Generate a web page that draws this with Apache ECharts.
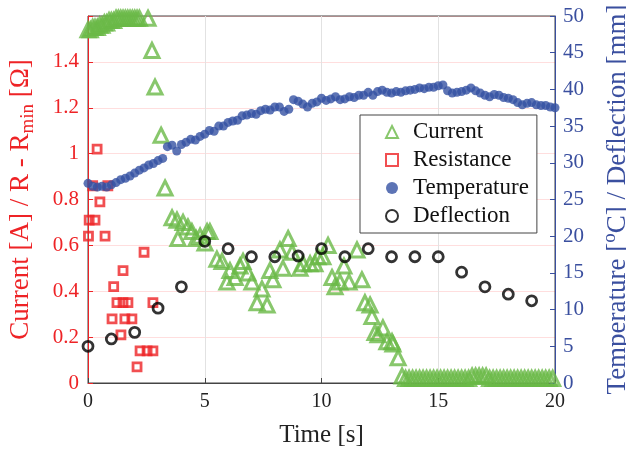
<!DOCTYPE html>
<html>
<head>
<meta charset="utf-8">
<script src="https://cdn.jsdelivr.net/npm/echarts@6/dist/echarts.min.js"></script>
<style>
  html, body { margin: 0; padding: 0; background: #fff; }
  #chart { width: 626px; height: 454px; }
</style>
</head>
<body>
<div id="chart"></div>
<script>
// current [A] vs time [s]
const currentTime = [
  0.00, 0.10, 0.20, 0.30, 0.40, 0.50, 0.60, 0.70, 0.80, 0.90, 1.00, 1.10, 1.20, 1.30, 1.40, 1.50,
  1.60, 1.70, 1.80, 1.90, 2.00, 2.10, 2.20, 2.57, 2.74, 2.87, 3.13, 3.30, 3.60, 3.81, 3.85, 4.07,
  4.28, 4.45, 4.63, 4.80, 5.01, 5.10, 5.22, 5.52, 5.74, 5.95, 6.08, 6.30, 6.51, 6.64, 6.85, 7.02,
  7.24, 7.45, 7.67, 7.79, 7.92, 8.22, 8.35, 8.57, 8.74, 9.08, 9.21, 9.51, 9.72, 9.85, 10.06, 10.28,
  10.45, 10.58, 10.79, 10.96, 11.18, 11.52, 11.73, 11.86, 12.08, 12.16, 12.29, 12.42, 12.63, 12.80, 13.02, 13.06,
  13.28, 13.45, 13.60, 13.75, 13.90, 14.05, 14.20, 14.35, 14.50, 14.65, 14.80, 14.95, 15.10, 15.25, 15.40, 15.55,
  15.70, 15.85, 16.00, 16.15, 16.30, 16.45, 16.60, 16.75, 16.90, 17.05, 17.20, 17.35, 17.50, 17.65, 17.80, 17.95,
  18.10, 18.25, 18.40, 18.55, 18.70, 18.85, 19.00, 19.15, 19.30, 19.45, 19.60, 19.75, 19.90
];
const currentValue = [
  1.54, 1.54, 1.55, 1.55, 1.55, 1.56, 1.56, 1.57, 1.57, 1.58, 1.58, 1.58, 1.59, 1.59, 1.59, 1.59,
  1.59, 1.59, 1.59, 1.59, 1.59, 1.59, 1.59, 1.59, 1.45, 1.29, 1.08, 0.85, 0.72, 0.71, 0.63, 0.70,
  0.68, 0.66, 0.63, 0.64, 0.61, 0.66, 0.66, 0.54, 0.53, 0.44, 0.49, 0.46, 0.51, 0.53, 0.48, 0.44,
  0.35, 0.41, 0.34, 0.49, 0.45, 0.58, 0.50, 0.63, 0.57, 0.50, 0.52, 0.52, 0.52, 0.55, 0.55, 0.60,
  0.46, 0.42, 0.44, 0.51, 0.44, 0.58, 0.45, 0.35, 0.34, 0.29, 0.22, 0.21, 0.24, 0.18, 0.18, 0.17,
  0.11, 0.03, 0.02, 0.02, 0.02, 0.02, 0.02, 0.02, 0.02, 0.02, 0.02, 0.02, 0.02, 0.02, 0.02, 0.02,
  0.02, 0.02, 0.02, 0.02, 0.02, 0.03, 0.03, 0.03, 0.03, 0.03, 0.02, 0.02, 0.02, 0.02, 0.02, 0.02,
  0.02, 0.02, 0.02, 0.02, 0.02, 0.02, 0.02, 0.02, 0.02, 0.02, 0.02, 0.02, 0.02
];

// R - Rmin [ohm]
const resistanceTime = [0.02, 0.05, 0.30, 0.39, 0.51, 0.20, 0.73, 0.85, 1.03, 1.10, 1.24, 1.41,
  1.50, 1.50, 1.58, 1.71, 1.88, 2.10, 2.23, 2.40, 2.53, 2.78, 2.78];
const resistanceValue = [0.64, 0.71, 0.71, 1.02, 0.79, 0.86, 0.64, 0.86, 0.28, 0.42, 0.35, 0.21,
  0.35, 0.49, 0.28, 0.35, 0.28, 0.07, 0.14, 0.57, 0.14, 0.14, 0.35];

// temperature [degC], every 0.2 s
const temperatureTime = [];
for (let i = 0; i <= 100; i++) temperatureTime.push(+(i * 0.2).toFixed(1));
const temperatureValue = [
  27.2, 26.8, 26.7, 26.8, 26.7, 27.0, 27.3, 27.7, 27.9, 28.2, 28.6, 29.0, 29.3, 29.7, 29.9, 30.3,
  30.6, 32.2, 32.4, 31.6, 32.5, 32.8, 33.2, 33.1, 33.6, 33.9, 34.4, 34.3, 35.0, 35.0, 35.5, 35.7,
  35.8, 36.4, 36.5, 36.7, 36.6, 37.1, 37.3, 37.2, 37.6, 37.6, 37.0, 37.3, 38.6, 38.4, 38.0, 37.6,
  38.1, 38.3, 38.8, 38.5, 38.7, 39.0, 38.6, 38.7, 39.0, 38.9, 39.2, 39.2, 39.6, 39.2, 39.7, 39.9,
  39.6, 39.5, 39.7, 39.6, 39.8, 39.9, 40.0, 40.2, 40.1, 40.3, 40.3, 40.5, 40.6, 39.8, 39.5, 39.6,
  39.7, 39.9, 40.2, 39.8, 39.5, 39.2, 39.0, 39.3, 39.2, 38.9, 38.8, 38.6, 38.2, 37.9, 38.1, 38.2,
  37.9, 37.8, 37.8, 37.6, 37.5
];

// deflection [mm], every 1 s
const deflectionTime = [0, 1, 2, 3, 4, 5, 6, 7, 8, 9, 10, 11, 12, 13, 14, 15, 16, 17, 18, 19];
const deflectionValue = [5.0, 6.0, 6.9, 10.2, 13.1, 19.3, 18.3, 17.2, 17.2, 17.3,
  18.3, 17.2, 18.3, 17.2, 17.2, 17.2, 15.1, 13.1, 12.1, 11.2];

const FONT = 'Liberation Serif';
const RED = '#ee2326';
const GREEN = '#6ab947';
const BLUE = '#3a4f9f';
const DOT = '#3451a2';

const pairs = (xs, ys) => xs.map((x, i) => [x, ys[i]]);

const chart = echarts.init(document.getElementById('chart'), null, { renderer: 'canvas' });

chart.setOption({
  animation: false,
  backgroundColor: '#fff',
  grid: {
    left: 88, right: 71, top: 16, bottom: 71,
    outerBoundsMode: 'none',
    containLabel: false,
    show: true, borderColor: '#444', borderWidth: 1, backgroundColor: 'transparent'
  },
  legend: {
    orient: 'vertical',
    left: 360, top: 115,
    padding: [3, 8, 3, 25],
    itemGap: 0,
    itemWidth: 12, itemHeight: 12,
    backgroundColor: '#fff',
    borderColor: '#444', borderWidth: 1, borderRadius: 0,
    textStyle: { fontFamily: FONT, fontSize: 23, color: '#111', lineHeight: 28, padding: [0, 0, 0, 10] },
    data: ['Current', 'Resistance', 'Temperature', 'Deflection']
  },
  xAxis: {
    type: 'value',
    min: 0, max: 20, interval: 5,
    name: 'Time [s]',
    nameLocation: 'middle',
    nameGap: 40,
    nameTextStyle: { fontFamily: FONT, fontSize: 25, color: '#222' },
    axisLine: { lineStyle: { color: '#444', width: 1 } },
    axisTick: { inside: true, length: 5, lineStyle: { color: '#444' } },
    axisLabel: { fontFamily: FONT, fontSize: 20, color: '#222', margin: 9 },
    splitLine: { show: true, lineStyle: { color: '#e2e2e2', width: 1 } }
  },
  yAxis: [
    {
      type: 'value',
      position: 'left',
      min: 0, max: 1.6, interval: 0.2,
      name: '{a|Current [A] / R - R}{sub|min}{a| [Ω]}',
      nameLocation: 'middle',
      nameRotate: 90,
      nameGap: 50,
      nameTextStyle: {
        fontFamily: FONT, fontSize: 27, color: RED,
        rich: {
          a: { fontFamily: FONT, fontSize: 27, color: RED, lineHeight: 34, verticalAlign: 'middle' },
          sub: { fontFamily: FONT, fontSize: 19, color: RED, lineHeight: 19, verticalAlign: 'bottom' }
        }
      },
      axisLine: { show: true, lineStyle: { color: RED, width: 1 } },
      axisTick: { inside: true, length: 5, lineStyle: { color: RED } },
      axisLabel: {
        fontFamily: FONT, fontSize: 21, color: RED, margin: 9,
        formatter: v => (Math.abs(v - 1.6) < 1e-6 ? '' : String(+v.toFixed(1)))
      },
      splitLine: { show: true, lineStyle: { color: 'rgba(255,0,0,0.13)', width: 1 } }
    },
    {
      type: 'value',
      position: 'right',
      min: 0, max: 50, interval: 5,
      name: '{a|Temperature [}{sup|o}{a|C] / Deflection [mm]}',
      nameLocation: 'middle',
      nameRotate: 90,
      nameGap: 46,
      nameTextStyle: {
        fontFamily: FONT, fontSize: 27, color: BLUE,
        rich: {
          a: { fontFamily: FONT, fontSize: 27, color: BLUE, lineHeight: 34, verticalAlign: 'middle' },
          sup: { fontFamily: FONT, fontSize: 19, color: BLUE, lineHeight: 19, verticalAlign: 'top' }
        }
      },
      axisLine: { show: true, lineStyle: { color: BLUE, width: 1 } },
      axisTick: { inside: true, length: 5, lineStyle: { color: BLUE } },
      axisLabel: { fontFamily: FONT, fontSize: 21, color: BLUE, margin: 8 },
      splitLine: { show: false }
    }
  ],
  series: [
    {
      name: 'Current',
      type: 'scatter',
      yAxisIndex: 0,
      symbol: 'triangle',
      symbolSize: 14,
      itemStyle: { color: 'rgba(255,255,255,0)', borderColor: GREEN, borderWidth: 3 },
      emphasis: { disabled: true },
      data: pairs(currentTime, currentValue)
    },
    {
      name: 'Resistance',
      type: 'scatter',
      yAxisIndex: 0,
      symbol: 'rect',
      symbolSize: 8,
      itemStyle: { color: 'rgba(255,255,255,0)', borderColor: RED, borderWidth: 2.8 },
      emphasis: { disabled: true },
      data: pairs(resistanceTime, resistanceValue)
    },
    {
      name: 'Temperature',
      type: 'scatter',
      yAxisIndex: 1,
      symbol: 'circle',
      symbolSize: 9,
      itemStyle: { color: DOT },
      emphasis: { disabled: true },
      data: pairs(temperatureTime, temperatureValue)
    },
    {
      name: 'Deflection',
      type: 'scatter',
      yAxisIndex: 1,
      symbol: 'circle',
      symbolSize: 10,
      itemStyle: { color: 'rgba(255,255,255,0)', borderColor: '#000', borderWidth: 2.8 },
      emphasis: { disabled: true },
      data: pairs(deflectionTime, deflectionValue)
    }
  ]
});
</script>
</body>
</html>
